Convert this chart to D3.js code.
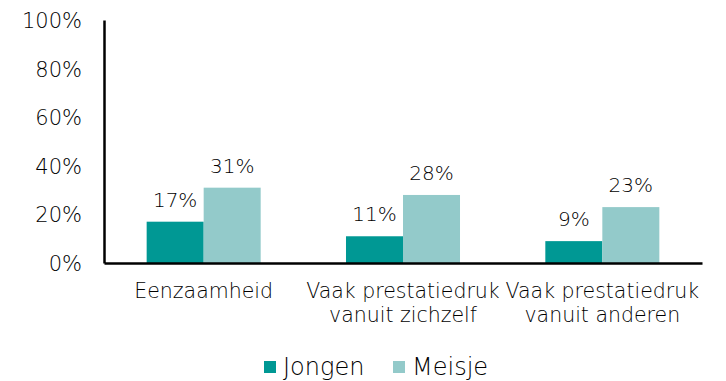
<!DOCTYPE html>
<html>
<head>
<meta charset="utf-8">
<script src="https://cdn.jsdelivr.net/npm/d3@7"></script>
<style>
  html, body { margin: 0; padding: 0; background: #fff; }
  svg { display: block; }
  text { font-family: "DejaVu Sans", sans-serif; fill: #000; font-weight: 300; }
</style>
</head>
<body>
<div id="chart"></div>
<script>
// Chart data
const categories = [
  ["Eenzaamheid"],
  ["Vaak prestatiedruk", "vanuit zichzelf"],
  ["Vaak prestatiedruk", "vanuit anderen"]
];
const seriesNames = ["Jongen", "Meisje"];
const jongen = [0.17, 0.11, 0.09];
const meisje = [0.31, 0.28, 0.23];
const yTicks = [0, 0.2, 0.4, 0.6, 0.8, 1.0];
const colors = ["#009894", "#93caca"];

const W = 726, H = 381;
const margin = { left: 104, right: 24, top: 20, bottom: 118 };
const svg = d3.select("#chart").append("svg").attr("width", W).attr("height", H);

const catIdx = categories.map((d, i) => i);
const x0 = d3.scaleBand().domain(catIdx).range([margin.left, W - margin.right])
  .paddingInner(0.428).paddingOuter(0.214);
const x1 = d3.scaleBand().domain(seriesNames).range([0, x0.bandwidth()]);
const y = d3.scaleLinear().domain([0, 1]).range([H - margin.bottom, margin.top]);

const fmt = d3.format(".0%");
const series = [jongen, meisje];

// Bars and value labels
seriesNames.forEach((name, s) => {
  const g = svg.append("g");
  g.selectAll("rect").data(series[s]).join("rect")
    .attr("x", (d, i) => x0(i) + x1(name))
    .attr("y", d => y(d))
    .attr("width", x1.bandwidth())
    .attr("height", d => y(0) - y(d))
    .attr("fill", colors[s]);
  g.selectAll("text").data(series[s]).join("text")
    .attr("x", (d, i) => x0(i) + x1(name) + x1.bandwidth() / 2)
    .attr("y", d => y(d) - 15)
    .attr("text-anchor", "middle")
    .attr("font-size", 20)
    .text(d => fmt(d));
});

// Y axis
const yAxis = svg.append("g").attr("transform", `translate(${margin.left},0)`)
  .call(d3.axisLeft(y).tickValues(yTicks).tickFormat(fmt).tickSize(0).tickPadding(22));
yAxis.select(".domain").attr("stroke", "#000").attr("stroke-width", 2.5);
yAxis.selectAll("text").attr("font-size", 21).attr("font-family", null)
  .attr("fill", null).attr("dy", "0.36em");

// X axis line
const xAxis = svg.append("g").attr("transform", `translate(0,${y(0)})`)
  .call(d3.axisBottom(x0).tickSize(0).tickFormat(""));
xAxis.select(".domain").attr("stroke", "#000").attr("stroke-width", 2.5);

// Category labels (two lines where needed)
const catLabels = svg.append("g");
categories.forEach((lines, i) => {
  const cx = x0(i) + x0.bandwidth() / 2;
  const t = catLabels.append("text")
    .attr("x", cx)
    .attr("y", 298)
    .attr("text-anchor", "middle")
    .attr("font-size", 20.5);
  lines.forEach((ln, k) => {
    t.append("tspan").attr("x", cx).attr("dy", k === 0 ? 0 : 24).text(ln);
  });
});

// Legend
const legend = svg.append("g");
const legendX = [264, 393];
seriesNames.forEach((name, s) => {
  legend.append("rect").attr("x", legendX[s]).attr("y", 361).attr("width", 12).attr("height", 12)
    .attr("fill", colors[s]);
  legend.append("text").attr("x", legendX[s] + 19).attr("y", 375)
    .attr("font-size", 24).text(name);
});
</script>
</body>
</html>
